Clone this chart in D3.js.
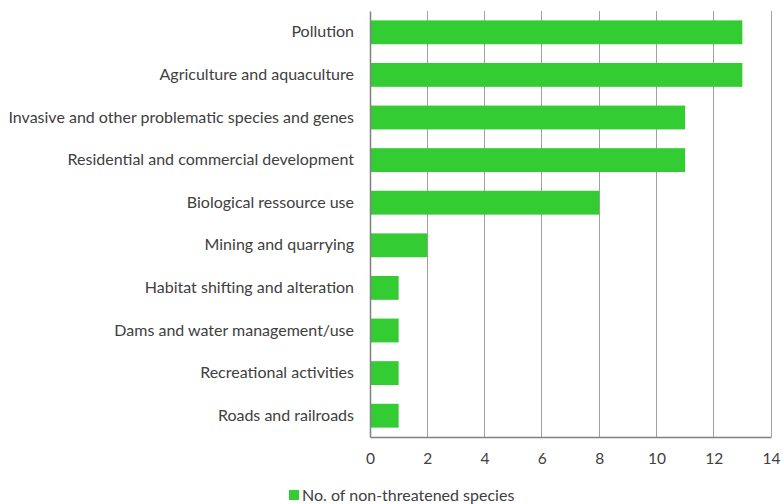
<!DOCTYPE html>
<html>
<head>
<meta charset="utf-8">
<script src="https://cdn.jsdelivr.net/npm/d3@7"></script>
<style>
  html, body { margin: 0; padding: 0; background: #fff; }
  svg { display: block; font-family: Lato, "Open Sans", sans-serif; }
</style>
</head>
<body>
<svg id="chart" width="781" height="504"></svg>
<script>
// Threat categories, top to bottom
const categories = [
  "Pollution",
  "Agriculture and aquaculture",
  "Invasive and other problematic species and genes",
  "Residential and commercial development",
  "Biological ressource use",
  "Mining and quarrying",
  "Habitat shifting and alteration",
  "Dams and water management/use",
  "Recreational activities",
  "Roads and railroads"
];
const nonThreatened = [13, 13, 11, 11, 8, 2, 1, 1, 1, 1];
const xTicks = [0, 2, 4, 6, 8, 10, 12, 14];
const seriesName = "No. of non-threatened species";

const svg = d3.select("#chart");
const margin = { top: 11, right: 10, bottom: 67, left: 370 };
const width = 781 - margin.left - margin.right;
const height = 504 - margin.top - margin.bottom;

const x = d3.scaleLinear().domain([0, 14]).range([0, width]);
const y = d3.scaleBand().domain(categories).range([0, height]).paddingInner(0.44).paddingOuter(0.22);

const g = svg.append("g").attr("transform", `translate(${margin.left},${margin.top})`);

// vertical gridlines
g.append("g")
  .selectAll("line")
  .data(xTicks.slice(1))
  .join("line")
  .attr("x1", d => x(d)).attr("x2", d => x(d))
  .attr("y1", 0).attr("y2", height)
  .attr("stroke", "#a0a0a0").attr("stroke-width", 1)
  .attr("shape-rendering", "crispEdges");

// bars
g.append("g")
  .selectAll("rect")
  .data(categories)
  .join("rect")
  .attr("x", x(0))
  .attr("y", d => y(d))
  .attr("width", (d, i) => x(nonThreatened[i]) - x(0))
  .attr("height", y.bandwidth())
  .attr("fill", "#33cc33");

// x axis
const xAxis = g.append("g")
  .attr("transform", `translate(0,${height})`)
  .call(d3.axisBottom(x).tickValues(xTicks).tickSize(0).tickPadding(16));
xAxis.select(".domain").attr("stroke", "#808080").attr("stroke-width", 1.5);
xAxis.selectAll("text").attr("fill", "#404040").attr("font-size", 15.5).attr("font-family", "Lato, sans-serif");

// y axis
const yAxis = g.append("g")
  .call(d3.axisLeft(y).tickSize(0).tickPadding(16));
yAxis.select(".domain").attr("stroke", "#808080").attr("stroke-width", 1.5);
yAxis.selectAll("text").attr("fill", "#404040").attr("font-size", 16).attr("font-family", "Lato, sans-serif");

// legend
const legend = svg.append("g").attr("transform", "translate(289,490)");
legend.append("rect").attr("x", 0).attr("y", 0).attr("width", 10).attr("height", 10).attr("fill", "#33cc33");
legend.append("text")
  .attr("x", 13).attr("y", 10.5)
  .attr("fill", "#404040").attr("font-size", 16)
  .text(seriesName);
</script>
</body>
</html>
